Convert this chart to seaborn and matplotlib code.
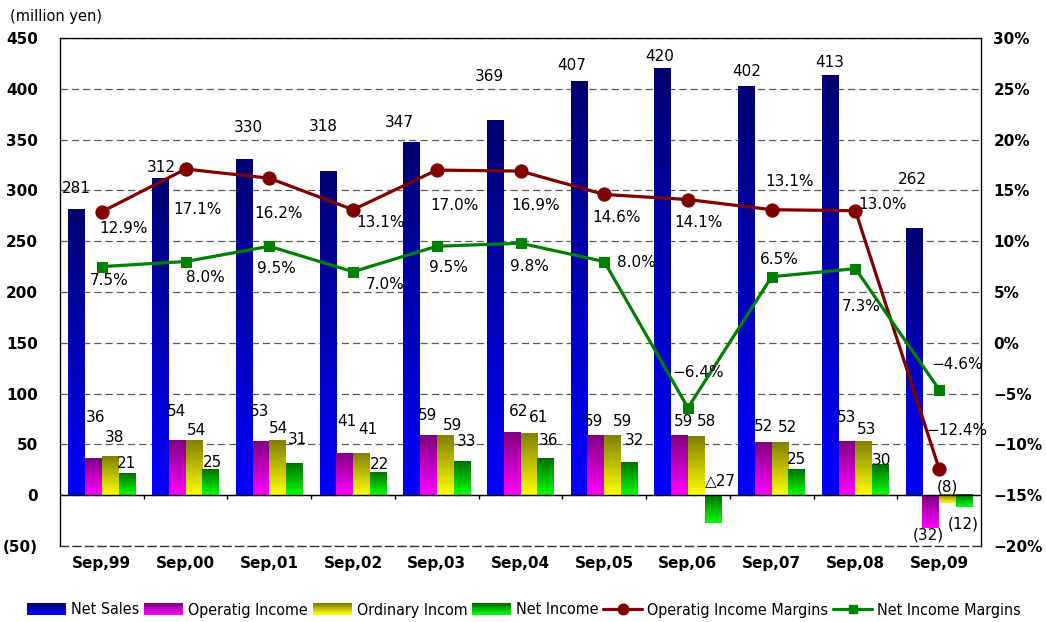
import numpy as np
import pandas as pd
import matplotlib
matplotlib.use("Agg")
import matplotlib.pyplot as plt
import seaborn as sns
from matplotlib.colors import LinearSegmentedColormap
from matplotlib.patches import Rectangle
from matplotlib.lines import Line2D
from matplotlib.legend_handler import HandlerBase
from matplotlib.ticker import FuncFormatter, MultipleLocator
from matplotlib import font_manager as fm
from matplotlib.font_manager import FontProperties

# ---- data ---------------------------------------------------------------
periods = ["Sep,99", "Sep,00", "Sep,01", "Sep,02", "Sep,03", "Sep,04",
           "Sep,05", "Sep,06", "Sep,07", "Sep,08", "Sep,09"]
net_sales = [281, 312, 330, 318, 347, 369, 407, 420, 402, 413, 262]
operating_income = [36, 54, 53, 41, 59, 62, 59, 59, 52, 53, -32]
ordinary_income = [38, 54, 54, 41, 59, 61, 59, 58, 52, 53, -8]
net_income = [21, 25, 31, 22, 33, 36, 32, -27, 25, 30, -12]
operating_margin = [12.9, 17.1, 16.2, 13.1, 17.0, 16.9, 14.6, 14.1, 13.1, 13.0, -12.4]
net_margin = [7.5, 8.0, 9.5, 7.0, 9.5, 9.8, 8.0, -6.4, 6.5, 7.3, -4.6]

bar_series = ["Net Sales", "Operatig Income", "Ordinary Incom", "Net Income"]
line_series = ["Operatig Income Margins", "Net Income Margins"]
# periods whose loss is written with a triangle instead of brackets
triangle_marked = {"Net Income": ["Sep,06"]}

# ---- styling ------------------------------------------------------------
# (bright bottom colour, dark top colour) for each bar series
bar_gradients = {
    "Net Sales": ("#0000ff", "#000070"),
    "Operatig Income": ("#ff00ff", "#800080"),
    "Ordinary Incom": ("#ffff00", "#808000"),
    "Net Income": ("#00ff00", "#007000"),
}
line_colors = {"Operatig Income Margins": "#800000", "Net Income Margins": "#008000"}

# label offsets in pixels (dx, dy up) from the end of each bar / each point
bar_label_offsets = {
    "Net Sales": [(0, 21), (1, 11), (4, 32), (-5, 46), (-12, 20), (-6, 44),
                  (-7, 16), (-3, 12), (0, 15), (-1, 13), (-2, 50)],
    "Operatig Income": [(2, 41), (-1, 29), (-1, 30), (2, 32), (-1, 20), (6, 21),
                        (-2, 14), (4, 14), (0, 16), (0, 24), (-2, -7)],
    "Ordinary Incom": [(4, 19), (3, 10), (1, 12), (6, 24), (7, 10), (10, 16),
                       (10, 14), (10, 15), (7, 15), (3, 12), (0, 16)],
    "Net Income": [(0, 10), (2, 7), (3, 24), (1, 8), (5, 20), (3, 18),
                   (5, 22), (7, 42), (0, 10), (1, 4), (-1, -17)],
}
line_label_offsets = {
    "Operatig Income Margins": [(22, -17), (12, -40), (9, -35), (28, -13), (18, -35),
                                (15, -34), (12, -23), (11, -23), (18, 28), (27, 6),
                                (18, 38)],
    "Net Income Margins": [(7, -14), (20, -16), (7, -22), (32, -13), (12, -21),
                           (9, -23), (32, -1), (10, 35), (8, 17), (6, -38), (18, 25)],
}

sns.set_style("white")
plt.rcParams["font.family"] = ["DejaVu Sans"]
plt.rcParams["axes.unicode_minus"] = True
plt.rcParams["text.color"] = "black"
plt.rcParams["xtick.color"] = "black"
plt.rcParams["ytick.color"] = "black"
plt.rcParams["xtick.labelcolor"] = "black"
plt.rcParams["ytick.labelcolor"] = "black"
plt.rcParams["legend.labelcolor"] = "black"

W, H = 1046, 622
fig = plt.figure(figsize=(W / 100, H / 100), dpi=100)
ax = fig.add_axes([60 / W, 1 - 546 / H, 921 / W, 508 / H])

cmaps = {k: LinearSegmentedColormap.from_list(k, [lo, hi]) for k, (lo, hi) in bar_gradients.items()}

df = pd.DataFrame({
    "period": periods * len(bar_series),
    "series": np.repeat(bar_series, len(periods)),
    "value": net_sales + operating_income + ordinary_income + net_income,
})

sns.barplot(data=df, x="period", y="value", hue="series", hue_order=bar_series,
            order=periods, palette=[bar_gradients[s][1] for s in bar_series],
            width=0.8, saturation=1, errorbar=None, legend=False, ax=ax, zorder=2)

# paint each bar with a vertical gradient (dark top, bright bottom)
grad = np.linspace(0, 1, 256).reshape(-1, 1)
for series, container in zip(bar_series, ax.containers):
    for bar in container:
        x0, w = bar.get_x(), bar.get_width()
        y0, h = bar.get_y(), bar.get_height()
        ylo, yhi = min(y0, y0 + h), max(y0, y0 + h)
        ax.imshow(grad, cmap=cmaps[series], extent=[x0, x0 + w, ylo, yhi],
                  origin="lower", aspect="auto", interpolation="bilinear", zorder=2)
        bar.set_visible(False)


def money(v, series, period):
    if v < 0:
        if period in triangle_marked.get(series, []):
            return f"\u25b3{abs(v)}"
        return f"({abs(v)})"
    return f"{v}"


values_by_series = dict(zip(bar_series, [net_sales, operating_income, ordinary_income, net_income]))
for series, container in zip(bar_series, ax.containers):
    vals = values_by_series[series]
    for bar, v, p, (dx, dy) in zip(container, vals, periods, bar_label_offsets[series]):
        xc = bar.get_x() + bar.get_width() / 2
        ax.annotate(money(v, series, p), xy=(xc, v), xytext=(dx, dy),
                    textcoords="offset pixels", ha="center", va="center",
                    fontsize=11, color="black", zorder=5)

ax.set_xlim(-0.5, len(periods) - 0.5)
ax.set_ylim(-50, 450)
ax.yaxis.set_major_locator(MultipleLocator(50))
ax.yaxis.set_major_formatter(FuncFormatter(lambda v, _: f"({abs(int(v))})" if v < 0 else f"{int(v)}"))
ax.set_axisbelow(True)
ax.yaxis.grid(True, linestyle=(0, (5.8, 3.2)), color="#5a5a5a", linewidth=0.9)
ax.xaxis.grid(False)
ax.axhline(0, color="black", linewidth=1.0, zorder=3)
ax.vlines(np.arange(0.5, len(periods) - 0.5, 1), -4, 0, color="black", linewidth=1.0, zorder=3)
ax.set_xlabel("")
ax.set_ylabel("")
ax.set_xticks(range(len(periods)))
ax.set_xticklabels(periods, fontsize=11, fontweight="bold", color="black")
ax.tick_params(axis="x", length=0, pad=7, labelcolor="black")
ax.tick_params(axis="y", length=0, pad=16, labelsize=11, labelcolor="black")
for t in ax.get_yticklabels():
    t.set_fontweight("bold")
for s in ["left", "top", "right"]:
    ax.spines[s].set_color("black")
    ax.spines[s].set_linewidth(1.0)
ax.spines["bottom"].set_color("#333333")
ax.spines["bottom"].set_linestyle((0, (5.8, 3.2)))
ax.spines["bottom"].set_linewidth(1.0)

# ---- margin lines on the secondary axis -----------------------------------
ax2 = ax.twinx()
margins = {"Operatig Income Margins": operating_margin, "Net Income Margins": net_margin}
markers = {"Operatig Income Margins": ("o", 9.5), "Net Income Margins": ("s", 7.5)}
xs = np.arange(len(periods))
for name in line_series:
    mk, ms = markers[name]
    sns.lineplot(x=xs, y=margins[name], ax=ax2, color=line_colors[name], marker=mk,
                 markersize=ms, markeredgecolor=line_colors[name], linewidth=2.3,
                 sort=False, legend=False, zorder=4)
    for x, v, (dx, dy) in zip(xs, margins[name], line_label_offsets[name]):
        ax2.annotate(f"{v:.1f}%".replace("-", "\u2212"), xy=(x, v), xytext=(dx, dy),
                     textcoords="offset pixels", ha="center", va="center",
                     fontsize=11, color="black", zorder=6)

ax2.set_ylim(-20, 30)
ax2.yaxis.set_major_locator(MultipleLocator(5))
ax2.yaxis.set_major_formatter(FuncFormatter(lambda v, _: f"{int(round(v))}%".replace("-", "\u2212")))
ax2.tick_params(axis="y", length=0, pad=9, labelsize=11, labelcolor="black")
for t in ax2.get_yticklabels():
    t.set_fontweight("bold")
ax2.set_ylabel("")
ax2.grid(False)
for s in ax2.spines.values():
    s.set_visible(False)

fig.text(10 / W, 1 - 16 / H, "(million yen)", fontsize=10.5, va="center", ha="left",
         color="black")

# ---- legend ---------------------------------------------------------------
class GradientPatchHandler(HandlerBase):
    def __init__(self, cmap, steps=14):
        super().__init__()
        self.cmap = cmap
        self.steps = steps

    def create_artists(self, legend, orig_handle, xdescent, ydescent, width, height,
                       fontsize, trans):
        arts = []
        for k in range(self.steps):
            arts.append(Rectangle((-xdescent, -ydescent + height * k / self.steps),
                                  width, height / self.steps * 1.05,
                                  facecolor=self.cmap(k / (self.steps - 1)),
                                  edgecolor="none", transform=trans))
        return arts


handles, handler_map = [], {}
for s in bar_series:
    h = Rectangle((0, 0), 1, 1)
    handles.append(h)
    handler_map[h] = GradientPatchHandler(cmaps[s])
for name in line_series:
    mk, ms = markers[name]
    handles.append(Line2D([], [], color=line_colors[name], lw=2.3, marker=mk,
                          markersize=ms * 0.8, markeredgecolor=line_colors[name]))
labels = bar_series + line_series

names = {f.name for f in fm.fontManager.ttflist}
if "Liberation Sans Narrow" in names:
    base_prop = dict(family="Liberation Sans Narrow")
else:
    base_prop = dict(family="DejaVu Sans", stretch="condensed")

for fs in [12.5, 12, 11.5, 11, 10.5, 10, 9.5, 9, 8.5, 8]:
    leg = fig.legend(handles, labels, handler_map=handler_map, loc="center",
                     bbox_to_anchor=(524 / W, 1 - 610 / H), ncol=6, frameon=False,
                     handlelength=2.45, handleheight=0.7, handletextpad=0.3,
                     columnspacing=0.3, borderpad=0, borderaxespad=0,
                     labelcolor="black",
                     prop=FontProperties(size=fs, **base_prop))
    fig.canvas.draw()
    if leg.get_window_extent().width <= 1038:
        break
    leg.remove()

fig.savefig("out.png", dpi=100)
